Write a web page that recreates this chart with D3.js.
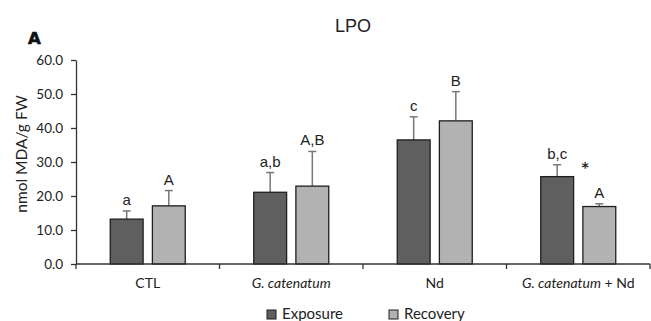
<!DOCTYPE html>
<html><head><meta charset="utf-8">
<script src="https://cdn.jsdelivr.net/npm/d3@7"></script>
<style>body{margin:0;background:#fff}svg{display:block}</style>
</head><body>
<script>
const categories = ["CTL", "G. catenatum", "Nd", "G. catenatum + Nd"];
const series = ["Exposure", "Recovery"];
const exposure = [13.2, 21.1, 36.5, 25.7];
const exposureErr = [2.4, 5.8, 6.8, 3.5];
const recovery = [17.1, 22.9, 42.1, 16.9];
const recoveryErr = [4.5, 10.2, 8.6, 0.8];
const exposureLetters = ["a", "a,b", "c", "b,c"];
const recoveryLetters = ["A", "A,B", "B", "A"];
const yTicks = [0, 10, 20, 30, 40, 50, 60];

const W = 651, H = 321;
const svg = d3.select("body").append("svg").attr("width", W).attr("height", H);
const colors = {Exposure: "#5f5f5f", Recovery: "#b2b2b2"};

const x = d3.scaleBand().domain(categories).range([76, 650]).padding(0);
const xs = d3.scaleBand().domain(series).range([-37.5, 37.5]).paddingInner(0.22);
const y = d3.scaleLinear().domain([0, 60]).range([264, 60]);

// title
svg.append("text").attr("x", 353).attr("y", 32).attr("text-anchor", "middle")
  .attr("font-family", "Liberation Sans, Arial, sans-serif").attr("font-size", 18).attr("fill", "#222").text("LPO");
svg.append("text").attr("x", 28).attr("y", 44)
  .attr("font-family", "DejaVu Sans, sans-serif").attr("font-weight", 900).attr("font-size", 16.5).attr("fill", "#111")
  .attr("stroke", "#111").attr("stroke-width", 0.6).text("A");

// y axis
const yAxis = svg.append("g").attr("transform", "translate(76,0)")
  .call(d3.axisLeft(y).tickValues(yTicks).tickFormat(d3.format(".1f")).tickSize(5).tickSizeOuter(0).tickPadding(8));
yAxis.selectAll("path,line").attr("stroke", "#333").attr("stroke-width", 1.3);
yAxis.selectAll("text").attr("font-family", "Lato, sans-serif").attr("font-size", 13.5).attr("fill", "#222");

svg.append("text").attr("transform", "translate(27,154) rotate(-90)").attr("text-anchor", "middle")
  .attr("font-family", "Lato, sans-serif").attr("font-size", 15.5).attr("fill", "#222").text("nmol MDA/g FW");

// data rows
const rows = categories.map((c, i) => ({c, i, vals: [
  {s: "Exposure", v: exposure[i], e: exposureErr[i], l: exposureLetters[i]},
  {s: "Recovery", v: recovery[i], e: recoveryErr[i], l: recoveryLetters[i]}
]}));

const g = svg.selectAll("g.cat").data(rows).join("g").attr("class", "cat")
  .attr("transform", d => `translate(${x(d.c) + x.bandwidth() / 2},0)`);

const b = g.selectAll("g.bar").data(d => d.vals).join("g").attr("class", "bar");
// error bars
b.append("line").attr("x1", d => xs(d.s) + xs.bandwidth() / 2).attr("x2", d => xs(d.s) + xs.bandwidth() / 2)
  .attr("y1", d => y(d.v)).attr("y2", d => y(d.v + d.e)).attr("stroke", "#777").attr("stroke-width", 1.5);
b.append("line").attr("x1", d => xs(d.s) + xs.bandwidth() / 2 - 4).attr("x2", d => xs(d.s) + xs.bandwidth() / 2 + 4)
  .attr("y1", d => y(d.v + d.e)).attr("y2", d => y(d.v + d.e)).attr("stroke", "#777").attr("stroke-width", 1.5);
b.append("rect").attr("x", d => xs(d.s)).attr("width", xs.bandwidth())
  .attr("y", d => y(d.v)).attr("height", d => y(0) - y(d.v))
  .attr("fill", d => colors[d.s]).attr("stroke", "#1e1e1e").attr("stroke-width", 1.3);
b.append("text").attr("x", d => xs(d.s) + xs.bandwidth() / 2).attr("y", d => y(d.v + d.e) - 6)
  .attr("text-anchor", "middle").attr("font-family", "Liberation Sans, Arial, sans-serif").attr("font-size", 15)
  .attr("fill", "#222").text(d => d.l);

// asterisk on last group
const last = categories[3];
svg.append("text").attr("x", x(last) + x.bandwidth() / 2 + 7).attr("y", 172)
  .attr("text-anchor", "middle").attr("font-family", "DejaVu Sans, sans-serif").attr("font-weight", "bold")
  .attr("font-size", 14).attr("fill", "#222").text("*");

// x axis
const xAxisG = svg.append("g").attr("transform", "translate(0,264)");
xAxisG.append("line").attr("x1", 76).attr("x2", 650).attr("y1", 0).attr("y2", 0).attr("stroke", "#333").attr("stroke-width", 1.3);
const bounds = [...categories.map(c => x(c)), x.range()[1]];
xAxisG.selectAll("line.tk").data(bounds).join("line").attr("class", "tk")
  .attr("x1", d => d).attr("x2", d => d).attr("y1", 0).attr("y2", 5).attr("stroke", "#333").attr("stroke-width", 1.3);

const labs = xAxisG.selectAll("text").data(categories).join("text")
  .attr("x", d => x(d) + x.bandwidth() / 2).attr("y", 24).attr("text-anchor", "middle")
  .attr("font-family", "Lato, sans-serif").attr("font-size", 14).attr("fill", "#222");
labs.each(function(d) {
  const t = d3.select(this);
  if (d.startsWith("G. catenatum")) {
    t.append("tspan").attr("font-style", "italic").text("G. catenatum");
    const rest = d.slice("G. catenatum".length);
    if (rest) t.append("tspan").text(rest);
  } else t.text(d);
});

// legend
const lx = [267, 389];
const lg = svg.selectAll("g.leg").data(series).join("g").attr("class", "leg")
  .attr("transform", (d, i) => `translate(${lx[i]},310)`);
lg.append("rect").attr("width", 9).attr("height", 9).attr("fill", d => colors[d]).attr("stroke", "#1e1e1e").attr("stroke-width", 1);
lg.append("text").attr("x", 15).attr("y", 9).attr("font-family", "Lato, sans-serif").attr("font-size", 15)
  .attr("fill", "#222").text(d => d);
</script>
</body></html>
